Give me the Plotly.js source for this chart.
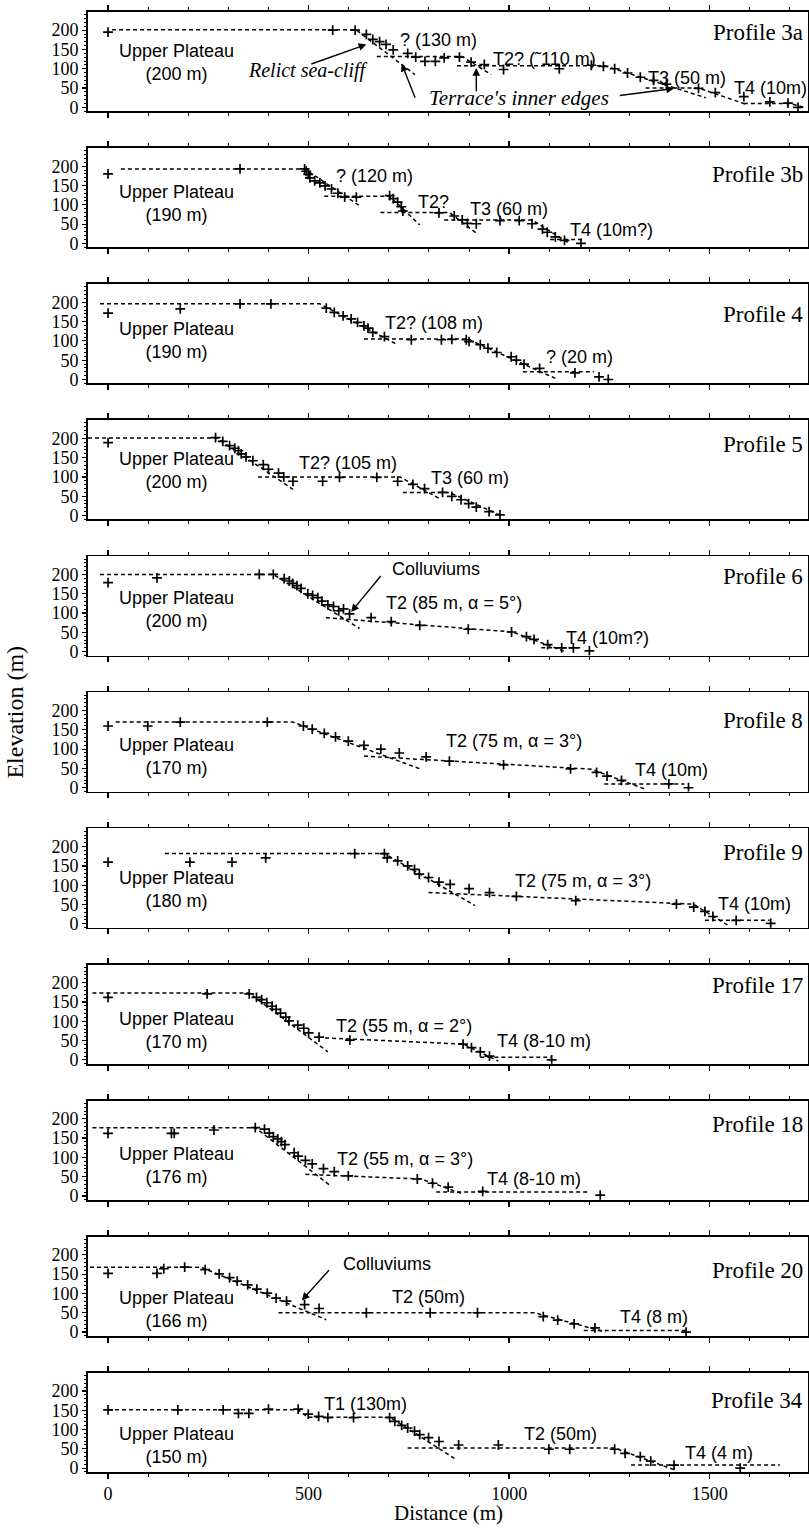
<!DOCTYPE html>
<html><head><meta charset="utf-8">
<script src="https://cdn.plot.ly/plotly-3.0.1.min.js"></script>
<style>body{margin:0;background:#fff}#chart{width:809px;height:1528px}</style>
</head><body><div id="chart"></div>
<script>
// ---------- data: survey points (distance m, elevation m) and fitted terrace lines ----------
const profileNames = ['Profile 3a','Profile 3b','Profile 4','Profile 5','Profile 6','Profile 8','Profile 9','Profile 17','Profile 18','Profile 20','Profile 34'];
const plateauLabels = ['(200 m)','(190 m)','(190 m)','(200 m)','(200 m)','(170 m)','(180 m)','(170 m)','(176 m)','(166 m)','(150 m)'];

const p3a_dist = [0,560,616,644,660,677,693,711,747,767,790,816,838,876,905,938,986,1125,1205,1235,1263,1295,1327,1360,1392,1472,1514,1585,1650,1695,1720];
const p3a_elev = [195,200,200,189,176,170,163,149,140,130,119,119,128,130,117,111,98,100,109,106,100,89,78,70,60,49,38,28,14,11,0];
const p3a_fitDist = [10,618,765,null,670,882,955,null,870,1237,1490,null,1340,1472,1590,null,1585,1700,1735];
const p3a_fitElev = [201,201,85,null,132,132,85,null,108,108,25,null,50,50,8,null,10,10,0];

const p3b_dist = [0,329,490,494,499,503,515,528,541,557,573,590,619,702,711,722,731,735,825,863,883,896,918,977,1025,1057,1083,1095,1115,1138,1179];
const p3b_elev = [180,193,193,187,179,170,162,157,149,141,130,120,120,124,116,107,95,84,79,71,61,52,51,59,59,51,37,29,17,8,0];
const p3b_fitDist = [32,490,625,null,539,702,777,null,679,851,918,null,838,1057,1147,null,1102,1186];
const p3b_fitElev = [193,193,99,null,122,122,48,null,80,80,27,null,61,61,2,null,10,10];

const p4_dist = [0,180,329,406,544,564,586,606,622,638,648,660,689,756,831,857,893,900,928,947,969,1005,1018,1037,1076,1164,1224,1247];
const p4_elev = [172,183,196,196,185,174,165,157,148,139,133,122,111,103,103,104,103,98,90,81,70,59,50,40,29,17,7,0];
const p4_fitDist = [-20,528,722,null,638,896,1115,null,1034,1211];
const p4_fitElev = [196,196,90,null,105,105,3,null,20,20];

const p5_dist = [0,268,286,303,316,325,332,344,361,387,400,425,438,461,535,577,670,722,760,789,834,857,880,899,918,950,977];
const p5_elev = [189,202,192,181,174,168,160,152,142,132,120,110,100,89,89,99,99,89,81,70,60,50,41,31,22,10,2];
const p5_fitDist = [-50,271,461,null,374,728,825,null,735,851,980];
const p5_fitElev = [201,201,68,null,100,100,45,null,60,60,0];

const p6_dist = [0,122,377,412,439,452,460,471,481,498,510,523,533,548,562,575,587,602,656,706,777,898,1006,1043,1062,1096,1131,1160,1200];
const p6_elev = [179,191,200,200,189,183,177,171,164,150,146,140,131,121,117,106,111,98,88,78,68,58,51,39,32,18,10,10,2];
const p6_fitDist = [-20,412,627,null,543,1008,1140,null,1080,1185];
const p6_fitElev = [200,200,60,null,88,51,0,null,10,10];

const p8_dist = [0,99,180,397,487,509,539,567,599,638,680,726,793,851,986,1153,1218,1244,1280,1398,1447];
const p8_elev = [160,160,170,170,160,152,141,132,121,110,100,90,80,69,59,49,40,30,19,10,0];
const p8_fitDist = [19,461,780,null,638,1205,1340,null,1237,1437];
const p8_fitElev = [170,170,48,null,82,48,-4,null,10,10];

const p9_dist = [0,204,309,393,615,689,696,722,747,764,776,799,825,853,900,951,1018,1166,1417,1460,1488,1508,1566,1652];
const p9_elev = [160,160,160,171,182,182,171,163,150,141,129,120,108,102,91,81,71,60,51,43,32,19,9,1];
const p9_fitDist = [142,689,915,null,799,1459,1544,null,1488,1649];
const p9_fitElev = [182,182,47,null,81,51,-3,null,9,9];

const p17_dist = [0,247,352,370,383,396,409,419,430,443,451,473,488,500,526,603,885,906,928,951,1106];
const p17_elev = [162,171,171,162,156,148,139,131,121,111,101,90,82,70,59,51,41,32,21,10,0];
const p17_fitDist = [-39,352,548,null,541,885,973,null,928,1106];
const p17_fitElev = [173,173,21,null,57,41,-3,null,7,7];

const p18_dist = [0,158,165,264,367,390,402,412,423,432,441,464,474,492,509,537,564,599,771,809,848,934,1227];
const p18_elev = [162,162,162,171,177,173,163,154,148,141,133,112,103,92,83,71,63,52,44,33,23,12,2];
const p18_fitDist = [-39,367,554,null,492,780,883,null,818,1199];
const p18_fitElev = [177,177,27,null,56,44,6,null,10,10];

const p20_dist = [0,122,139,191,242,277,303,322,348,371,397,419,445,490,526,644,803,921,1085,1121,1162,1214,1441];
const p20_elev = [152,152,164,168,162,151,141,132,122,111,101,88,80,71,61,50,50,50,40,31,21,11,0];
const p20_fitDist = [-45,232,544,null,425,1063,1240,null,1186,1443];
const p20_fitElev = [168,168,32,null,50,50,0,null,4,4];

const p34_dist = [0,174,287,325,351,400,474,499,525,548,612,702,715,732,747,764,777,799,825,874,973,1099,1151,1263,1289,1327,1353,1411,1576];
const p34_elev = [151,151,151,142,142,153,153,140,134,131,131,131,121,111,104,96,87,79,69,60,60,49,49,49,38,30,18,8,0];
const p34_fitDist = [0,474,497,702,864,null,747,1263,1411,null,1304,1675];
const p34_fitElev = [151,151,132,132,25,null,52,52,-4,null,8,8];

const allDist = [p3a_dist,p3b_dist,p4_dist,p5_dist,p6_dist,p8_dist,p9_dist,p17_dist,p18_dist,p20_dist,p34_dist];
const allElev = [p3a_elev,p3b_elev,p4_elev,p5_elev,p6_elev,p8_elev,p9_elev,p17_elev,p18_elev,p20_elev,p34_elev];
const allFitDist = [p3a_fitDist,p3b_fitDist,p4_fitDist,p5_fitDist,p6_fitDist,p8_fitDist,p9_fitDist,p17_fitDist,p18_fitDist,p20_fitDist,p34_fitDist];
const allFitElev = [p3a_fitElev,p3b_fitElev,p4_fitElev,p5_fitElev,p6_fitElev,p8_fitElev,p9_fitElev,p17_fitElev,p18_fitElev,p20_fitElev,p34_fitElev];

const xTickVals = [0,500,1000,1500];
const yTickVals = [0,50,100,150,200];

// ---------- layout ----------
const N = 11;
const W = 809, Hpx = 1528, mt = 12, mb = 56, ml = 88, mr = 1;
const A = Hpx - mt - mb;
const ratio = 0.729;
const pitch = A / (N - 1 + ratio);
const ph = pitch * ratio;

const SERIF = 'Liberation Serif, Times New Roman, serif';
const SANS = 'Liberation Sans, Arial, sans-serif';

const traces = [];
const layout = {
  width: W, height: Hpx,
  margin: {l: ml, r: mr, t: mt, b: mb},
  paper_bgcolor: '#fff', plot_bgcolor: '#fff',
  showlegend: false,
  annotations: [], shapes: []
};

for (let i = 0; i < N; i++) {
  const k = i === 0 ? '' : String(i + 1);
  const xa = 'x' + k, ya = 'y' + k;
  const top = 1 - (i * pitch) / A;
  const bot = Math.max(0, top - ph / A);
  layout['xaxis' + k] = {
    domain: [0, 1], anchor: ya, range: [-50, 1745],
    tickvals: xTickVals, ticks: 'outside', ticklen: 5, tickwidth: 1.4, tickcolor: '#000',
    minor: {dtick: 100, tick0: 0, ticks: 'outside', ticklen: 3, tickwidth: 1, tickcolor: '#000'},
    showticklabels: i === N - 1,
    tickfont: {family: SERIF, size: 18, color: '#000'},
    showline: true, linecolor: '#000', linewidth: 1.8, mirror: 'ticks',
    showgrid: false, zeroline: false
  };
  if (i > 0) layout['xaxis' + k].matches = 'x';
  layout['yaxis' + k] = {
    domain: [bot, top], anchor: xa, range: [-10, 247],
    tickvals: yTickVals, ticks: 'outside', ticklen: 4, tickwidth: 1.2, tickcolor: '#000',
    minor: {dtick: 10, tick0: 0, ticks: 'outside', ticklen: 2, tickwidth: 1, tickcolor: '#000'},
    tickfont: {family: SERIF, size: 18, color: '#000'},
    showline: true, linecolor: '#000', linewidth: 1.8, mirror: true,
    showgrid: false, zeroline: false
  };
  traces.push({
    x: allFitDist[i], y: allFitElev[i], xaxis: xa, yaxis: ya,
    mode: 'lines', line: {color: '#000', width: 1.5, dash: '4px,3px'},
    connectgaps: false, hoverinfo: 'skip'
  });
  traces.push({
    x: allDist[i], y: allElev[i], xaxis: xa, yaxis: ya,
    mode: 'markers',
    marker: {symbol: 'cross-thin-open', size: 7, color: '#000', line: {color: '#000', width: 1.7}}
  });
}

// helper for text annotations in data coords
function txt(i, x, y, text, opts) {
  const k = i === 0 ? '' : String(i + 1);
  const a = Object.assign({
    xref: 'x' + k, yref: 'y' + k, x: x, y: y, text: text, showarrow: false,
    xanchor: 'center', yanchor: 'middle',
    font: {family: SANS, size: 18, color: '#000'}
  }, opts || {});
  layout.annotations.push(a);
}
function arrow(i, x0, y0, x1, y1) {
  const k = i === 0 ? '' : String(i + 1);
  layout.annotations.push({
    xref: 'x' + k, yref: 'y' + k, axref: 'x' + k, ayref: 'y' + k,
    x: x1, y: y1, ax: x0, ay: y0, text: '', showarrow: true,
    arrowhead: 2, arrowsize: 1.1, arrowwidth: 1.4, arrowcolor: '#000', standoff: 0, startstandoff: 0
  });
}
// panel names (right-aligned near the right border)
const nameY = [194, 179, 168, 185, 195, 173, 186, 192, 186, 160, 176];
for (let i = 0; i < N; i++) {
  txt(i, 1738, nameY[i], profileNames[i], {xanchor: 'right', font: {family: SERIF, size: 23, color: '#000'}});
}
const plateauY = [117, 103, 100, 117, 110, 80, 88, 76, 78, 59, 58];
for (let i = 0; i < N; i++) {
  txt(i, 170, plateauY[i], 'Upper Plateau<br>' + plateauLabels[i]);
}
// Profile 3a
txt(0, 825, 174, '? (130 m)');
txt(0, 1089, 125, 'T2? (˜110 m)');
txt(0, 1443, 77, 'T3 (50 m)');
txt(0, 1652, 51, 'T4 (10m)');
txt(0, 499, 96, '<i>Relict sea-cliff</i>', {font: {family: SERIF, size: 20, color: '#000'}});
txt(0, 1025, 24, "<i>Terrace's inner edges</i>", {font: {family: SERIF, size: 21, color: '#000'}});
arrow(0, 503, 111, 644, 163);
arrow(0, 767, 21, 732, 113);
arrow(0, 918, 38, 918, 102);
arrow(0, 1272, 30, 1411, 49);
// Profile 3b
txt(1, 664, 175, '? (120 m)');
txt(1, 811, 107, 'T2?');
txt(1, 999, 90, 'T3 (60 m)');
txt(1, 1256, 35, 'T4 (10m?)');
// Profile 4
txt(2, 812, 146, 'T2? (108 m)');
txt(2, 1175, 59, '? (20 m)');
// Profile 5
txt(3, 599, 135, 'T2? (105 m)');
txt(3, 902, 97, 'T3 (60 m)');
// Profile 6
txt(4, 818, 214, 'Colluviums');
arrow(4, 683, 200, 606, 103);
txt(4, 863, 127, 'T2 (85 m, α = 5°)');
txt(4, 1244, 36, 'T4 (10m?)');
// Profile 8
txt(5, 1012, 120, 'T2 (75 m, α = 3°)');
txt(5, 1405, 46, 'T4 (10m)');
// Profile 9
txt(6, 1183, 110, 'T2 (75 m, α = 3°)');
txt(6, 1611, 51, 'T4 (10m)');
// Profile 17
txt(7, 737, 89, 'T2 (55 m, α = 2°)');
txt(7, 1088, 48, 'T4 (8-10 m)');
// Profile 18
txt(8, 741, 97, 'T2 (55 m, α = 3°)');
txt(8, 1062, 44, 'T4 (8-10 m)');
// Profile 20
txt(9, 696, 176, 'Colluviums');
arrow(9, 554, 164, 483, 82);
txt(9, 800, 92, 'T2 (50m)');
txt(9, 1360, 38, 'T4 (8 m)');
// Profile 34
txt(10, 641, 165, 'T1 (130m)');
txt(10, 1128, 89, 'T2 (50m)');
txt(10, 1523, 38, 'T4 (4 m)');

// axis titles
layout.annotations.push({
  xref: 'paper', yref: 'paper', x: -0.102, y: (Hpx - mb - 712) / A, xanchor: 'center', yanchor: 'middle',
  text: 'Elevation (m)', textangle: -90, showarrow: false,
  font: {family: SERIF, size: 24, color: '#000'}
});
layout.annotations.push({
  xref: 'paper', yref: 'paper', x: 0.5, y: -(mb - 1) / A, xanchor: 'center', yanchor: 'bottom',
  text: 'Distance (m)', showarrow: false,
  font: {family: SERIF, size: 21, color: '#000'}
});

Plotly.newPlot('chart', traces, layout, {staticPlot: true});
</script></body></html>
